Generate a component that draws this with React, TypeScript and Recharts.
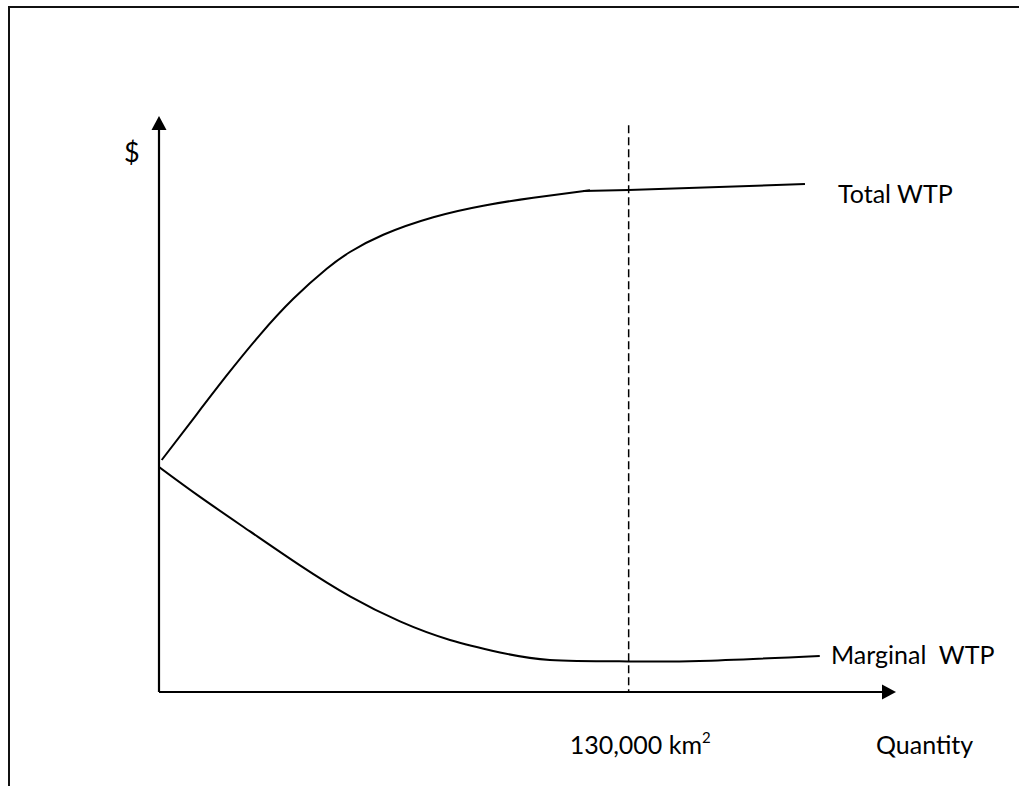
import React from "react";
import { LineChart, Line, XAxis, YAxis, ReferenceLine, ReferenceDot, Customized } from "recharts";

// Quantity in thousand km², value in arbitrary $ units
const totalCurveQ = [0.75, 9.49, 18.74, 27.95, 37.17, 46.42, 52.86, 62.08, 75.92, 89.76, 103.6, 119.3];
const totalCurveV = [40.28, 47.43, 54.95, 62.01, 68.26, 73.47, 76.39, 79.39, 82.43, 84.43, 85.82, 87.1];
const totalFlatQ = [117.4, 130, 178.8];
const totalFlatV = [86.98, 87.15, 88.19];
const marginalQ = [0, 11.35, 25.19, 39.03, 52.87, 66.7, 80.54, 94.38, 108.2, 130, 149.6, 182.9];
const marginalV = [39.06, 33.87, 27.88, 21.98, 16.6, 12.26, 9.04, 6.87, 5.57, 5.31, 5.38, 6.25];
const markQ = 130;
const X_MAX = 204;
const Y_MAX = 100;
const dashTop = 98.4;

const toRows = (qs: number[], vs: number[]) => qs.map((q, i) => ({ q, v: vs[i] }));
const totalCurve = toRows(totalCurveQ, totalCurveV);
const totalFlat = toRows(totalFlatQ, totalFlatV);
const marginal = toRows(marginalQ, marginalV);

const FONT = "Lato, 'Open Sans', sans-serif";

const QTick = (props: any) => {
  const { cx, cy } = props;
  return (
    <text x={cx - 59} y={cy + 62} textAnchor="start" fontFamily={FONT} fontSize={25} fill="#000">
      130,000 km
      <tspan fontSize={15} dy={-11}>2</tspan>
    </text>
  );
};

const RightArrow = (props: any) => {
  const { cx, cy } = props;
  return <polygon points={`${cx},${cy} ${cx - 14},${cy - 7.5} ${cx - 14},${cy + 7.5}`} fill="#000" />;
};
const UpArrow = (props: any) => {
  const { cx, cy } = props;
  return <polygon points={`${cx},${cy} ${cx - 7.5},${cy + 14} ${cx + 7.5},${cy + 14}`} fill="#000" />;
};

const Labels = () => (
  <g fontFamily={FONT} fontSize={25} fill="#000">
    <text x={124} y={162} fontSize={27}>$</text>
    <text x={838} y={203}>Total WTP</text>
    <text x={831} y={664}>{"Marginal\u00a0 WTP"}</text>
    <text x={876} y={754}>Quantity</text>
  </g>
);

export default function App() {
  return (
    <div style={{ position: "absolute", left: 0, top: 0, width: 1019, height: 786, background: "#fff", overflow: "hidden" }}>
      <div style={{ position: "absolute", left: 8, top: 6, width: 1011, height: 780, borderTop: "2px solid #111", borderLeft: "2px solid #111", boxSizing: "border-box" }} />
      <div style={{ position: "absolute", left: 0, top: 0 }}>
        <LineChart width={1019} height={786} margin={{ top: 116, right: 123, bottom: 94, left: 159 }}>
          <XAxis type="number" dataKey="q" domain={[0, X_MAX]} hide allowDataOverflow />
          <YAxis type="number" domain={[0, Y_MAX]} hide allowDataOverflow />
          <ReferenceLine
            segment={[{ x: 0, y: 0 }, { x: X_MAX - 1, y: 0 }]}
            stroke="#000"
            strokeWidth={2.2}
            ifOverflow="visible"
          />
          <ReferenceLine
            segment={[{ x: 0, y: 0 }, { x: 0, y: Y_MAX - 1 }]}
            stroke="#000"
            strokeWidth={2.2}
            ifOverflow="visible"
          />
          <ReferenceLine
            segment={[{ x: markQ, y: dashTop }, { x: markQ, y: 0 }]}
            stroke="#000"
            strokeWidth={1.5}
            strokeDasharray="8 4"
          />
          <Line data={totalCurve} dataKey="v" type="natural" stroke="#000" strokeWidth={2} dot={false} isAnimationActive={false} />
          <Line data={totalFlat} dataKey="v" type="linear" stroke="#000" strokeWidth={2} dot={false} isAnimationActive={false} />
          <Line data={marginal} dataKey="v" type="natural" stroke="#000" strokeWidth={2} dot={false} isAnimationActive={false} />
          <ReferenceDot x={X_MAX} y={0} r={0} shape={RightArrow} ifOverflow="visible" />
          <ReferenceDot x={0} y={Y_MAX} r={0} shape={UpArrow} ifOverflow="visible" />
          <ReferenceDot x={markQ} y={0} r={0} shape={QTick} ifOverflow="visible" />
          <Customized component={Labels} />
        </LineChart>
      </div>
    </div>
  );
}
